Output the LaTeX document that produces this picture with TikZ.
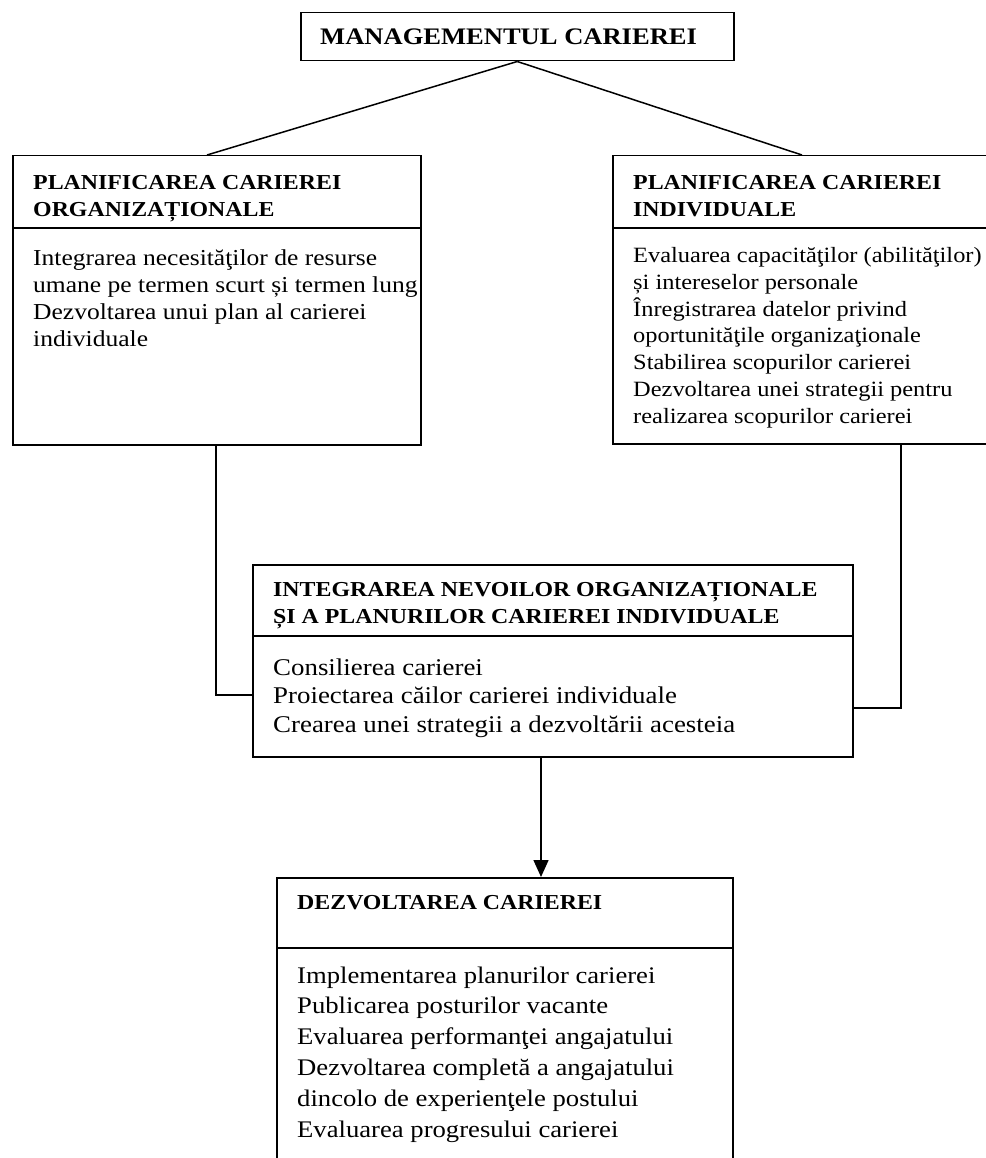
\documentclass[tikz,border=0pt]{standalone}
\usepackage{fontspec}
\setmainfont{Liberation Serif}[FakeStretch=1.12]
\usetikzlibrary{arrows.meta,calc}
\tikzset{
  box/.style={draw, line width=1.5pt, inner sep=0pt, anchor=north west},
  ln/.style={line width=1.5pt},
  arr/.style={line width=1.5pt, -{Triangle[length=17pt,width=15pt]}},
  titletxt/.style={font=\bfseries\fontsize{23.7}{27}\selectfont, anchor=base west, inner sep=0pt},
  headtxt/.style={font=\bfseries\fontsize{21.3}{27}\selectfont, align=left, anchor=base west, inner sep=0pt},
  bodytxt/.style={font=\fontsize{22.8}{26.7}\selectfont, align=left, anchor=base west, inner sep=0pt},
  rbodytxt/.style={font=\fontsize{21.8}{26.7}\selectfont, align=left, anchor=base west, inner sep=0pt},
  integtxt/.style={font=\fontsize{24}{28.5}\selectfont, align=left, anchor=base west, inner sep=0pt},
  bottxt/.style={font=\fontsize{23.8}{30.8}\selectfont, align=left, anchor=base west, inner sep=0pt},
}
\begin{document}
\begin{tikzpicture}[x=1pt,y=-1pt]
\useasboundingbox (0,0) rectangle (985,1158);
% boxes
\node[box, minimum width=433pt, minimum height=48pt] (top) at (300,12) {};
\node[box, minimum width=408pt, minimum height=289pt] (left) at (12,155) {};
\node[box, minimum width=380pt, minimum height=288pt] (right) at (612,155) {};
\node[box, minimum width=600pt, minimum height=192pt] (integ) at (252,564) {};
\node[box, minimum width=456pt, minimum height=300pt] (bottom) at (276,877) {};
% dividers
\draw[ln] ([yshift=-73pt]left.north west) -- ([yshift=-73pt]left.north east);
\draw[ln] ([yshift=-73pt]right.north west) -- ([yshift=-73pt]right.north east);
\draw[ln] ([yshift=-72pt]integ.north west) -- ([yshift=-72pt]integ.north east);
\draw[ln] ([yshift=-71pt]bottom.north west) -- ([yshift=-71pt]bottom.north east);
% texts (anchor at the baseline of the last line)
\node[titletxt] (ttitle) at (320,45) {MANAGEMENTUL CARIEREI};
\node[headtxt] (lhead) at (33,217) {PLANIFICAREA CARIEREI\\ORGANIZAȚIONALE};
\node[bodytxt] (lbody) at (33,346) {Integrarea necesităţilor de resurse\\umane pe termen scurt și termen lung\\Dezvoltarea unui plan al carierei\\individuale};
\node[headtxt] (rhead) at (633,217) {PLANIFICAREA CARIEREI\\INDIVIDUALE};
\node[rbodytxt] (rbody) at (633,423) {Evaluarea capacităţilor (abilităţilor)\\și intereselor personale\\Înregistrarea datelor privind\\oportunităţile organizaţionale\\Stabilirea scopurilor carierei\\Dezvoltarea unei strategii pentru\\realizarea scopurilor carierei};
\node[headtxt] (ihead) at (273,623) {INTEGRAREA NEVOILOR ORGANIZAȚIONALE\\ȘI A PLANURILOR CARIEREI INDIVIDUALE};
\node[integtxt] (ibody) at (273,732) {Consilierea carierei\\Proiectarea căilor carierei individuale\\Crearea unei strategii a dezvoltării acesteia};
\node[headtxt] (bhead) at (297,909) {DEZVOLTAREA CARIEREI};
\node[bottxt] (bbody) at (297,1137) {Implementarea planurilor carierei\\Publicarea posturilor vacante\\Evaluarea performanţei angajatului\\Dezvoltarea completă a angajatului\\dincolo de experienţele postului\\Evaluarea progresului carierei};
% connectors
\draw[ln] (top.south) -- ([xshift=195pt]left.north west);
\draw[ln] (top.south) -- ([xshift=190pt]right.north west);
\draw[ln] ([xshift=204pt]left.south west) |- ([yshift=-131pt]integ.north west);
\draw[ln] ([xshift=289pt]right.south west) |- ([yshift=-144pt]integ.north east);
\draw[arr] ([xshift=289pt]integ.south west) -- ([xshift=265pt]bottom.north west);
\end{tikzpicture}
\end{document}
